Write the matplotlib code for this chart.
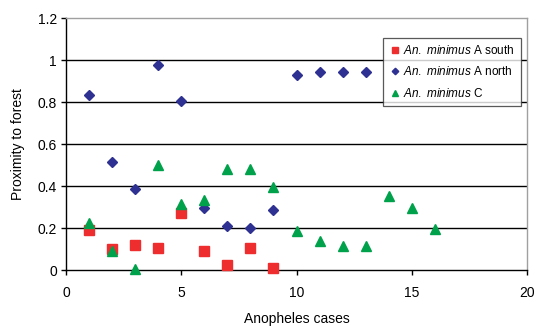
import matplotlib
matplotlib.use("Agg")
import matplotlib.pyplot as plt

plt.rcParams['font.family'] = ['Liberation Sans', 'DejaVu Sans']
plt.rcParams['mathtext.fontset'] = 'custom'
plt.rcParams['mathtext.it'] = 'Liberation Sans:italic'
plt.rcParams['mathtext.rm'] = 'Liberation Sans'

south_x = [1, 2, 3, 4, 5, 6, 7, 8, 9]
south_y = [0.19, 0.10, 0.118, 0.105, 0.27, 0.092, 0.024, 0.105, 0.011]
north_x = [1, 2, 3, 4, 5, 6, 7, 8, 9, 10, 11, 12, 13]
north_y = [0.833, 0.516, 0.387, 0.976, 0.806, 0.295, 0.211, 0.198, 0.286, 0.929, 0.943, 0.943, 0.943]
c_x = [1, 2, 3, 4, 5, 6, 7, 8, 9, 10, 11, 12, 13, 14, 15, 16]
c_y = [0.225, 0.092, 0.005, 0.50, 0.314, 0.333, 0.48, 0.48, 0.395, 0.187, 0.14, 0.116, 0.116, 0.354, 0.295, 0.195]

labels = [r"$\it{An.}$ $\it{minimus}$ A south", r"$\it{An.}$ $\it{minimus}$ A north", r"$\it{An.}$ $\it{minimus}$ C"]
xticks = [0, 5, 10, 15, 20]
yticks = [0, 0.2, 0.4, 0.6, 0.8, 1, 1.2]
yticklabels = ["0", "0.2", "0.4", "0.6", "0.8", "1", "1.2"]

fig = plt.figure(figsize=(5.37, 3.27), dpi=100)
ax = fig.add_axes([66/537, 1 - 270/327, (527-66)/537, (270-18)/327])

ax.plot(south_x, south_y, 's', color='#EE2D2F', ms=7.5, mec='#EE2D2F', label=labels[0], clip_on=False, zorder=3)
ax.plot(north_x, north_y, 'D', color='#2E3192', ms=5.5, mec='#2E3192', label=labels[1], clip_on=False, zorder=3)
ax.plot(c_x, c_y, '^', color='#00A14B', ms=7.5, mec='#00A14B', label=labels[2], clip_on=False, zorder=3)

ax.set_xlim(0, 20)
ax.set_ylim(0, 1.2)
ax.set_xticks(xticks)
ax.set_xticklabels([str(t) for t in xticks])
ax.set_yticks(yticks)
ax.set_yticklabels(yticklabels)
for y in yticks[1:-1]:
    ax.axhline(y, color='black', lw=1.0, zorder=1)

ax.spines['top'].set_color('#A0A0A0')
ax.spines['right'].set_color('#A0A0A0')
ax.spines['left'].set_color('black')
ax.spines['bottom'].set_color('black')
for s in ax.spines.values():
    s.set_linewidth(1.0)
ax.tick_params(axis='both', direction='out', length=3.5, width=1, labelsize=10, colors='black', pad=3)
ax.tick_params(axis='x', pad=8)

ax.set_xlabel("Anopheles cases", fontsize=10, labelpad=9)
ax.set_ylabel("Proximity to forest", fontsize=10, labelpad=9)

leg = ax.legend(loc='upper right', bbox_to_anchor=((521-66)/461, 1 - (38-18)/252), fontsize=8.5,
                frameon=True, fancybox=False, edgecolor='#303030', borderpad=0.5,
                handletextpad=0.2, handlelength=1.0, labelspacing=0.72, markerscale=0.6,
                borderaxespad=0)
leg.get_frame().set_linewidth(0.9)

fig.savefig("out.png", dpi=100)
